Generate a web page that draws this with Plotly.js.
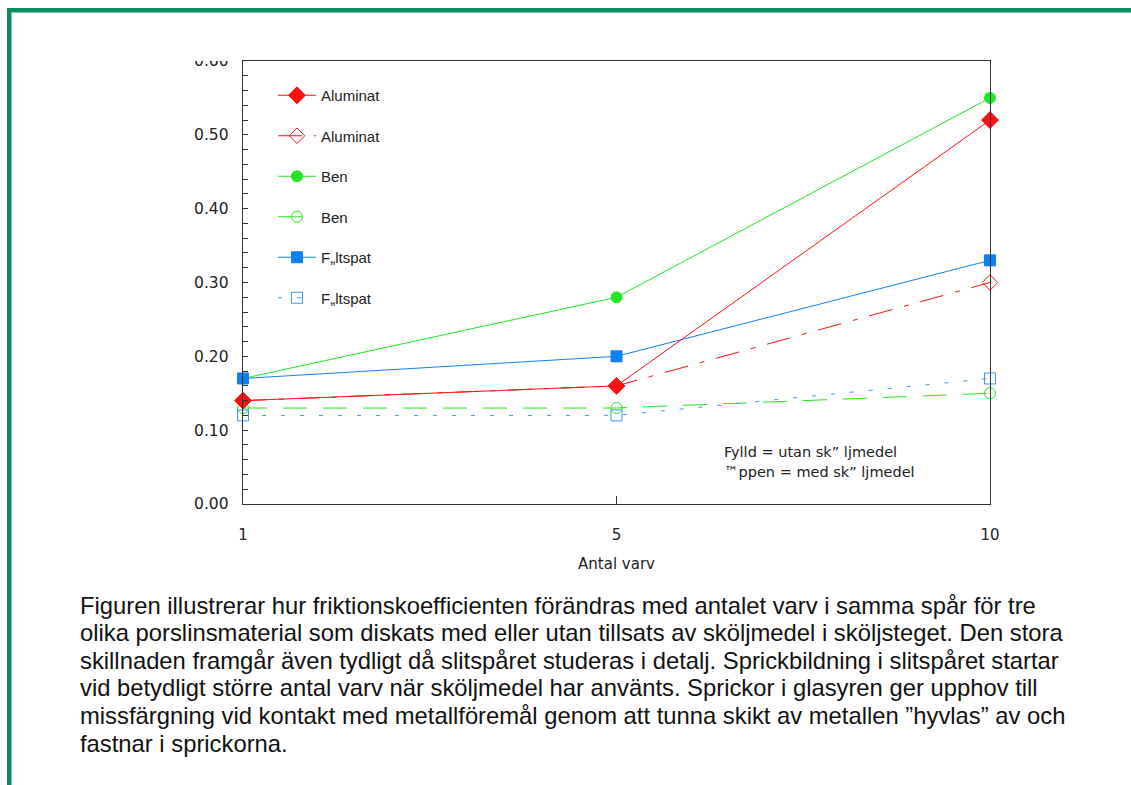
<!DOCTYPE html>
<html>
<head>
<meta charset="utf-8">
<script src="https://cdn.plot.ly/plotly-3.0.1.min.js"></script>
<style>
  html, body { margin: 0; padding: 0; background: #ffffff; }
  #chart { width: 1131px; height: 785px; }
</style>
</head>
<body>
<div id="chart"></div>
<script>
// ---- data ----
const varv = ['1', '5', '10'];
const aluminatFylld = [0.14, 0.16, 0.52];
const aluminatOppen = [0.14, 0.16, 0.30];
const benFylld = [0.17, 0.28, 0.55];
const benOppen = [0.13, 0.13, 0.15];
const faltspatFylld = [0.17, 0.20, 0.33];
const faltspatOppen = [0.12, 0.12, 0.17];
const yTickVals = [0, 0.1, 0.2, 0.3, 0.4, 0.5, 0.6];
const seriesNames = ['Aluminat', 'Aluminat', 'Ben', 'Ben', 'F\u201eltspat', 'F\u201eltspat'];
const noteLines = ['Fylld = utan sk\u201d ljmedel', '\u2122ppen = med sk\u201d ljmedel'];
const xTitle = 'Antal varv';
const captionLines = [
  'Figuren illustrerar hur friktionskoefficienten förändras med antalet varv i samma spår för tre',
  'olika porslinsmaterial som diskats med eller utan tillsats av sköljmedel i sköljsteget. Den stora',
  'skillnaden framgår även tydligt då slitspåret studeras i detalj. Sprickbildning i slitspåret startar',
  'vid betydligt större antal varv när sköljmedel har använts. Sprickor i glasyren ger upphov till',
  'missfärgning vid kontakt med metallföremål genom att tunna skikt av metallen \u201dhyvlas\u201d av och',
  'fastnar i sprickorna.'
];

// ---- geometry helpers (pixel -> paper) ----
const W = 1131, H = 785;
const L = 243, R = 990, T = 61, B = 504;
const px = v => (v - L) / (R - L);
const py = v => (B - v) / (B - T);

const RED = '#ff1010', GREEN = '#22e622', BLUE = '#0f80f2', BLUE2 = '#3d98f2';
const chartFont = 'DejaVu Sans, sans-serif';
const textCol = '#222222';

function tr(y, name, color, dash, symbol, size, group) {
  return {
    x: varv, y: y, name: name, type: 'scatter', mode: 'lines+markers',
    legendgroup: group, cliponaxis: false,
    line: { color: color, width: 1, dash: dash },
    marker: { symbol: symbol, size: size, color: color, line: { color: color, width: 1 } }
  };
}

const data = [
  tr(benOppen, seriesNames[3], GREEN, '24px,16px', 'circle-open', 11, 'g4'),
  tr(faltspatOppen, seriesNames[5], BLUE2, '4px,15px', 'square-open', 11, 'g6'),
  tr(aluminatOppen, seriesNames[1], RED, '24px,12px,5px,12px', 'diamond-open', 12, 'g2'),
  tr(benFylld, seriesNames[2], GREEN, 'solid', 'circle', 11, 'g3'),
  tr(faltspatFylld, seriesNames[4], BLUE, 'solid', 'square', 11, 'g5'),
  tr(aluminatFylld, seriesNames[0], RED, 'solid', 'diamond', 13, 'g1')
];
// legend ordering
const order = { g1: 1, g2: 2, g3: 3, g4: 4, g5: 5, g6: 6 };
data.forEach(d => { d.legendrank = order[d.legendgroup]; });

const annotations = [];
noteLines.forEach((t, i) => {
  annotations.push({
    xref: 'paper', yref: 'paper', x: px(722), y: py(452 + i * 20),
    xanchor: 'left', yanchor: 'middle', text: t, showarrow: false,
    font: { family: chartFont, size: 14.5, color: textCol }
  });
});
captionLines.forEach((t, i) => {
  annotations.push({
    xref: 'paper', yref: 'paper', x: px(78), y: py(605 + i * 27.6),
    xanchor: 'left', yanchor: 'middle', text: t, showarrow: false,
    font: { family: 'Liberation Sans, Arial, sans-serif', size: 23.8, color: '#111111' }
  });
});

const GREEN_BORDER = '#0b8a64';
const shapes = [
  { type: 'rect', xref: 'paper', yref: 'paper', x0: px(7), x1: px(W + 5), y0: py(12.5), y1: py(8),
    fillcolor: GREEN_BORDER, line: { width: 0 }, layer: 'above' },
  { type: 'rect', xref: 'paper', yref: 'paper', x0: px(7), x1: px(11.5), y0: py(H + 5), y1: py(8),
    fillcolor: GREEN_BORDER, line: { width: 0 }, layer: 'above' },
  // mask that trims the top of the 0.60 label like in the original
  { type: 'rect', xref: 'paper', yref: 'paper', x0: px(160), x1: px(241), y0: py(61), y1: py(40),
    fillcolor: '#ffffff', line: { width: 0 }, layer: 'above' }
];

const layout = {
  width: W, height: H,
  margin: { l: L, r: W - R, t: T, b: H - B, pad: 0 },
  paper_bgcolor: '#ffffff', plot_bgcolor: '#ffffff',
  showlegend: true,
  legend: {
    x: px(273), y: py(79), xanchor: 'left', yanchor: 'top',
    bgcolor: 'rgba(0,0,0,0)', borderwidth: 0,
    traceorder: 'grouped', tracegroupgap: 18, itemwidth: 38,
    font: { family: 'Liberation Sans, Arial, sans-serif', size: 15, color: textCol }
  },
  xaxis: {
    type: 'category', categoryorder: 'array', categoryarray: varv,
    range: [0, 2], autorange: false,
    showgrid: false, zeroline: false,
    showline: true, linecolor: '#333333', linewidth: 1.3, mirror: true,
    ticks: 'inside', ticklen: 8, tickcolor: '#333333', tickwidth: 1,
    ticklabelstandoff: 17,
    tickfont: { family: chartFont, size: 15, color: textCol },
    title: { text: xTitle, standoff: 15, font: { family: chartFont, size: 15, color: textCol } }
  },
  yaxis: {
    range: [0, 0.6], autorange: false,
    tickvals: yTickVals, tickformat: '.2f',
    showgrid: false, zeroline: false,
    showline: true, linecolor: '#333333', linewidth: 1.3, mirror: true,
    ticks: 'inside', ticklen: 5, tickcolor: '#333333', tickwidth: 1,
    ticklabelstandoff: 10,
    minor: { dtick: 0.02, tick0: 0, ticks: 'inside', ticklen: 5, tickcolor: '#333333', tickwidth: 1, showgrid: false },
    tickfont: { family: chartFont, size: 15.5, color: textCol }
  },
  annotations: annotations,
  shapes: shapes
};

Plotly.newPlot('chart', data, layout, { displayModeBar: false, staticPlot: true });
</script>
</body>
</html>
